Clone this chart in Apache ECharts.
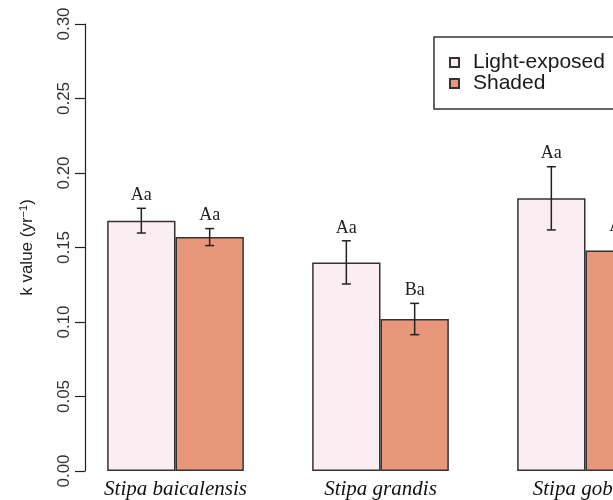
<!DOCTYPE html>
<html>
<head>
<meta charset="utf-8">
<script src="https://cdn.jsdelivr.net/npm/echarts@6/dist/echarts.min.js"></script>
<style>
  html, body { margin: 0; padding: 0; background: #fff; }
  #chart { width: 613px; height: 500px; }
</style>
</head>
<body>
<div id="chart"></div>
<script>
// Decomposition rate constants by species and light treatment
const species = ['Stipa baicalensis', 'Stipa grandis', 'Stipa gobica'];
const seriesNames = ['Light-exposed', 'Shaded'];
const lightMean = [0.168, 0.140, 0.183];
const lightSE = [0.0083, 0.0145, 0.0212];
const shadedMean = [0.157, 0.102, 0.148];
const shadedSE = [0.0057, 0.0105, 0.0078];
const lightLetters = ['Aa', 'Aa', 'Aa'];
const shadedLetters = ['Aa', 'Ba', 'Aa'];
const yTicks = [0, 0.05, 0.10, 0.15, 0.20, 0.25, 0.30];

const colors = ['#FBEEF3', '#E9977A'];

const chart = echarts.init(document.getElementById('chart'));

// error bars + significance letters, offset to each bar's centre within its category band
function errorSeries(means, ses, letters, side) {
  return {
    type: 'custom',
    name: 'err' + side,
    silent: true,
    z: 10,
    data: means.map((m, i) => [i, m, ses[i]]),
    renderItem: function (params, api) {
      const idx = api.value(0);
      const m = api.value(1);
      const se = api.value(2);
      const band = api.size([1, 0])[0];
      const cx = api.coord([idx, m])[0] + side * band / 6;
      const yTop = api.coord([idx, m + se])[1];
      const yBot = api.coord([idx, m - se])[1];
      const cap = 4.5;
      const ls = { stroke: '#222', lineWidth: 1.5 };
      return {
        type: 'group',
        children: [
          { type: 'line', shape: { x1: cx, y1: yTop, x2: cx, y2: yBot }, style: ls },
          { type: 'line', shape: { x1: cx - cap, y1: yTop, x2: cx + cap, y2: yTop }, style: ls },
          { type: 'line', shape: { x1: cx - cap, y1: yBot, x2: cx + cap, y2: yBot }, style: ls },
          {
            type: 'text',
            style: {
              x: cx, y: yTop - 4,
              text: letters[idx],
              align: 'center', verticalAlign: 'bottom',
              font: '18px "Liberation Serif", "Times New Roman", serif',
              fill: '#222'
            }
          }
        ]
      };
    }
  };
}

const option = {
  animation: false,
  backgroundColor: '#fff',
  grid: { left: 73, top: 24, width: 615, height: 447, containLabel: false, outerBoundsMode: 'none' },
  legend: {
    data: seriesNames,
    orient: 'vertical',
    left: 434,
    top: 37,
    icon: 'rect',
    itemWidth: 9,
    itemHeight: 9,
    itemGap: 0,
    padding: [15, 30, 15, 15],
    borderColor: '#333',
    borderWidth: 1.5,
    textStyle: {
      fontFamily: '"Liberation Sans", Arial, sans-serif',
      fontSize: 21,
      color: '#1a1a1a',
      padding: [0, 0, 0, 9]
    }
  },
  xAxis: {
    type: 'category',
    data: species,
    axisLine: { show: false },
    axisTick: { show: false },
    axisLabel: {
      interval: 0,
      margin: 8,
      fontFamily: '"Liberation Serif", "Times New Roman", serif',
      fontStyle: 'italic',
      fontSize: 21,
      color: '#111'
    }
  },
  yAxis: {
    type: 'value',
    min: 0,
    max: 0.30,
    interval: 0.05,
    offset: -12,
    splitLine: { show: false },
    axisLine: { show: true, lineStyle: { color: '#222', width: 1.2 } },
    axisTick: { show: true, length: 10, lineStyle: { color: '#222', width: 1.2 } },
    axisLabel: {
      rotate: 90,
      margin: 12,
      fontFamily: '"Liberation Sans", Arial, sans-serif',
      fontSize: 17,
      color: '#333',
      formatter: v => v.toFixed(2)
    },
    name: '{a|k value (yr}{b|−1}{a|)}',
    nameLocation: 'middle',
    nameRotate: 90,
    nameGap: 48,
    nameTextStyle: {
      rich: {
        a: { fontFamily: '"Liberation Sans", Arial, sans-serif', fontSize: 17, color: '#222' },
        b: { fontFamily: '"Liberation Sans", Arial, sans-serif', fontSize: 11, color: '#222', verticalAlign: 'top', padding: [0, 0, 8, 0] }
      }
    }
  },
  series: [
    {
      name: seriesNames[0],
      type: 'bar',
      data: lightMean,
      barGap: '0%',
      barCategoryGap: '33.33%',
      itemStyle: { color: colors[0], borderColor: '#333', borderWidth: 1.5 }
    },
    {
      name: seriesNames[1],
      type: 'bar',
      data: shadedMean,
      barGap: '0%',
      barCategoryGap: '33.33%',
      itemStyle: { color: colors[1], borderColor: '#333', borderWidth: 1.5 }
    },
    errorSeries(lightMean, lightSE, lightLetters, -1),
    errorSeries(shadedMean, shadedSE, shadedLetters, 1)
  ]
};

chart.setOption(option);
</script>
</body>
</html>
